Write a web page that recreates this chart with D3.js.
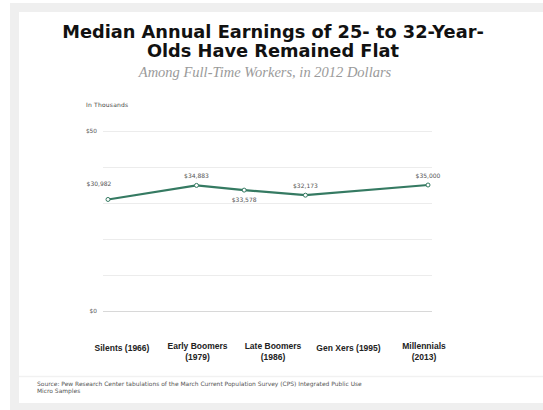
<!DOCTYPE html>
<html>
<head>
<meta charset="utf-8">
<script src="https://cdn.jsdelivr.net/npm/d3@7"></script>
<style>
  html, body { margin: 0; padding: 0; background: #fff; }
  svg { display: block; }
</style>
</head>
<body>
<svg id="chart" width="543" height="410"></svg>
<script>
// Generations and the year each cohort was 25 to 32
const generations = ["Silents", "Early Boomers", "Late Boomers", "Gen Xers", "Millennials"];
const years = [1966, 1979, 1986, 1995, 2013];
// Median annual earnings, thousands of 2012 dollars
const earnings = [30.982, 34.883, 33.578, 32.173, 35.000];
const valueLabels = ["$30,982", "$34,883", "$33,578", "$32,173", "$35,000"];
// Axis ticks
const gridValues = [0, 10, 20, 30, 40, 50];
const tickLabels = ["$0", "", "", "", "", "$50"];

const svg = d3.select("#chart");
const W = 543, H = 410;

// Frame and panel
svg.append("rect").attr("x", 10).attr("y", 3).attr("width", W).attr("height", H)
  .attr("fill", "#efefef");
svg.append("rect").attr("x", 19).attr("y", 12).attr("width", W).attr("height", 391)
  .attr("fill", "#ffffff");
svg.append("line").attr("x1", 19).attr("x2", W).attr("y1", 376.5).attr("y2", 376.5)
  .attr("stroke", "#f1f1f1").attr("stroke-width", 1.5);

// Title block
const title = svg.append("text")
  .attr("text-anchor", "middle")
  .attr("font-family", "Verdana, 'DejaVu Sans', sans-serif")
  .attr("font-weight", "bold")
  .attr("font-size", 17.8)
  .attr("fill", "#111");
title.append("tspan").attr("x", 273).attr("y", 38).text("Median Annual Earnings of 25- to 32-Year-");
title.append("tspan").attr("x", 273).attr("y", 57).text("Olds Have Remained Flat");

svg.append("text")
  .attr("x", 265).attr("y", 77)
  .attr("text-anchor", "middle")
  .attr("font-family", "Georgia, 'Liberation Serif', 'DejaVu Serif', serif")
  .attr("font-style", "italic")
  .attr("font-size", 14.5)
  .attr("fill", "#9a9a9a")
  .text("Among Full-Time Workers, in 2012 Dollars");

// Scales
const x = d3.scaleLinear().domain([1966, 2013]).range([108, 428]);
const y = d3.scaleLinear().domain([0, 50]).range([311, 131]);
const labelX = d3.scalePoint().domain(generations).range([122, 424]);

const small = "'DejaVu Sans', Verdana, sans-serif";
const bold = "Arial, 'Liberation Sans', sans-serif";

svg.append("text")
  .attr("x", 86).attr("y", 107)
  .attr("font-family", small).attr("font-size", 6).attr("letter-spacing", 0.2).attr("fill", "#444")
  .text("In Thousands");

// Gridlines
const grid = svg.append("g");
grid.selectAll("line").data(gridValues).join("line")
  .attr("x1", 103).attr("x2", 432)
  .attr("y1", d => Math.round(y(d)) + 0.5).attr("y2", d => Math.round(y(d)) + 0.5)
  .attr("stroke", d => d === 0 ? "#d8d8d8" : "#ececec")
  .attr("stroke-width", 1);
grid.selectAll("text").data(gridValues).join("text")
  .attr("x", 97).attr("y", d => y(d) + 2)
  .attr("text-anchor", "end")
  .attr("font-family", small).attr("font-size", 5.8).attr("fill", "#555")
  .text((d, i) => tickLabels[i]);

// Earnings line
const pts = years.map((yr, i) => ({ yr, v: earnings[i], label: valueLabels[i] }));
svg.append("path")
  .datum(pts)
  .attr("d", d3.line().x(d => x(d.yr)).y(d => y(d.v)))
  .attr("fill", "none")
  .attr("stroke", "#357a62")
  .attr("stroke-width", 2.2);

svg.append("g").selectAll("circle").data(pts).join("circle")
  .attr("cx", d => x(d.yr)).attr("cy", d => y(d.v))
  .attr("r", 2)
  .attr("fill", "#fff")
  .attr("stroke", "#357a62")
  .attr("stroke-width", 1);

// Value labels: above each point, except the dip which sits below
const placement = ["aboveLeft", "above", "below", "above", "above"];
svg.append("g").selectAll("text").data(pts).join("text")
  .attr("x", (d, i) => x(d.yr) + (placement[i] === "aboveLeft" ? -9 : 0))
  .attr("y", (d, i) => y(d.v) + (placement[i] === "below" ? 12 : placement[i] === "aboveLeft" ? -13 : -7))
  .attr("text-anchor", "middle")
  .attr("font-family", small).attr("font-size", 6).attr("fill", "#555")
  .text(d => d.label);

// Category labels
const catLines = generations.map((g, i) => {
  const full = `${g} (${years[i]})`;
  return full.length > 15 ? [g, `(${years[i]})`] : [full];
});
const cats = svg.append("g").selectAll("text").data(generations).join("text")
  .attr("text-anchor", "middle")
  .attr("font-family", bold).attr("font-weight", "bold")
  .attr("font-size", 8.5).attr("fill", "#222");
cats.each(function(g, i) {
  const lines = catLines[i];
  const t = d3.select(this);
  const y0 = lines.length === 1 ? 351 : 349;
  lines.forEach((ln, j) => {
    t.append("tspan").attr("x", labelX(g)).attr("y", y0 + j * 11).text(ln);
  });
});

// Source note
const src = svg.append("text")
  .attr("font-family", small).attr("font-size", 5.95).attr("fill", "#555");
src.append("tspan").attr("x", 37).attr("y", 386)
  .text("Source: Pew Research Center tabulations of the March Current Population Survey (CPS) Integrated Public Use");
src.append("tspan").attr("x", 37).attr("y", 393).text("Micro Samples");
</script>
</body>
</html>
